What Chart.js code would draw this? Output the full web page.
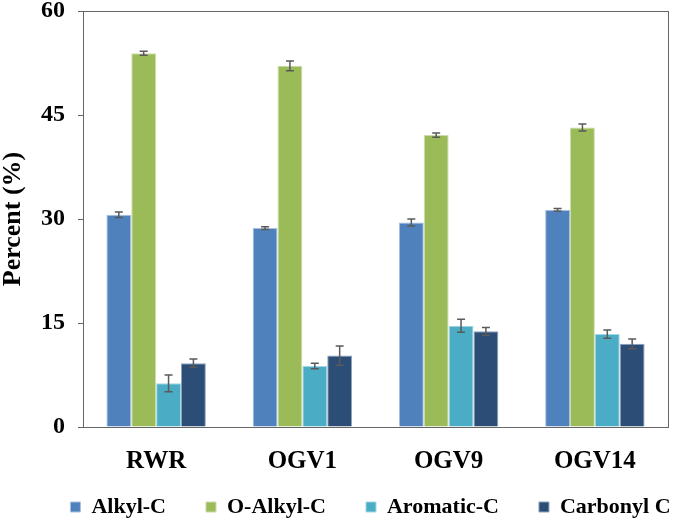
<!DOCTYPE html>
<html>
<head>
<meta charset="utf-8">
<script src="https://cdn.jsdelivr.net/npm/chart.js@4"></script>
<style>
	body { margin: 0; background: #fff; }
</style>
</head>
<body>
<canvas id="carbonChart" width="685" height="521"></canvas>
<script>
var samples = ["RWR", "OGV1", "OGV9", "OGV14"];

var alkylValues = [30.6, 28.7, 29.5, 31.3];
var oAlkylValues = [53.9, 52.1, 42.1, 43.2];
var aromaticValues = [6.3, 8.8, 14.6, 13.4];
var carbonylValues = [9.2, 10.3, 13.8, 12.0];

var alkylErrors = [0.4, 0.2, 0.5, 0.2];
var oAlkylErrors = [0.3, 0.7, 0.3, 0.5];
var aromaticErrors = [1.2, 0.4, 0.95, 0.6];
var carbonylErrors = [0.6, 1.4, 0.55, 0.7];

var yTicks = [0, 15, 30, 45, 60];

var font = "'Liberation Serif', 'Times New Roman', serif";
var axisColor = "#666";

// error bars, drawn on top of the bars
var errorBars = {
	id: "errorBars",
	afterDatasetsDraw: function (chart) {
		var ctx = chart.ctx;
		var y = chart.scales.y;
		ctx.save();
		ctx.strokeStyle = "#5a5a5a";
		ctx.lineWidth = 1.5;
		chart.data.datasets.forEach(function (ds, i) {
			var meta = chart.getDatasetMeta(i);
			meta.data.forEach(function (bar, j) {
				var top = y.getPixelForValue(ds.data[j] + ds.errors[j]);
				var bot = y.getPixelForValue(ds.data[j] - ds.errors[j]);
				ctx.beginPath();
				ctx.moveTo(bar.x, top);
				ctx.lineTo(bar.x, bot);
				ctx.moveTo(bar.x - 4, top);
				ctx.lineTo(bar.x + 4, top);
				ctx.moveTo(bar.x - 4, bot);
				ctx.lineTo(bar.x + 4, bot);
				ctx.stroke();
			});
		});
		ctx.restore();
	}
};

// legend keeps a short box in the layout, then gets moved to where the original has it
var legendNudge = {
	id: "legendNudge",
	afterLayout: function (chart) {
		var lg = chart.legend;
		lg.left += 28;
		lg.right += 28;
		lg.top = 456;
		lg.bottom = 521;
		lg.height = 65;
	}
};

var chartEl = document.getElementById("carbonChart");

var carbonChart = new Chart(chartEl, {
	type: "bar",
	data: {
		labels: samples,
		datasets: [
			{
				label: "Alkyl-C",
				data: alkylValues,
				errors: alkylErrors,
				backgroundColor: "#4F81BD",
				borderColor: "#a9c1df",
				borderWidth: 1
			},
			{
				label: "O-Alkyl-C",
				data: oAlkylValues,
				errors: oAlkylErrors,
				backgroundColor: "#9BBB59",
				borderColor: "#cddcac",
				borderWidth: 1
			},
			{
				label: "Aromatic-C",
				data: aromaticValues,
				errors: aromaticErrors,
				backgroundColor: "#4BACC6",
				borderColor: "#a5d5e2",
				borderWidth: 1
			},
			{
				label: "Carbonyl C",
				data: carbonylValues,
				errors: carbonylErrors,
				backgroundColor: "#2C4D75",
				borderColor: "#8ea3bd",
				borderWidth: 1
			}
		]
	},
	options: {
		responsive: false,
		animation: false,
		layout: { padding: 0 },
		datasets: {
			bar: { barPercentage: 1, categoryPercentage: 0.68 }
		},
		plugins: {
			tooltip: { enabled: false },
			legend: {
				position: "bottom",
				fullSize: true,
				maxHeight: 44,
				labels: {
					boxWidth: 10,
					boxHeight: 10,
					padding: 40,
					color: "#000",
					font: { family: font, size: 22, weight: "bold" }
				}
			}
		},
		scales: {
			x: {
				afterFit: function (scale) { scale.height = 50; },
				grid: { display: false, drawTicks: false },
				border: { color: axisColor, width: 1 },
				ticks: {
					padding: 20,
					color: "#000",
					font: { family: font, size: 25, weight: "bold" }
				}
			},
			y: {
				min: 0,
				max: 60,
				afterFit: function (scale) {
					scale.width = 83;
					scale.paddingTop = 11;
					scale.paddingBottom = 11;
				},
				afterBuildTicks: function (scale) {
					scale.ticks = yTicks.map(function (v) { return { value: v }; });
				},
				grid: { drawOnChartArea: false, drawTicks: true, tickLength: 5, color: axisColor },
				border: { color: axisColor, width: 1 },
				ticks: {
					padding: 13,
					color: "#000",
					font: { family: font, size: 24, weight: "bold", lineHeight: 1 }
				},
				title: {
					display: true,
					text: "Percent (%)",
					color: "#000",
					padding: 0,
					font: { family: font, size: 26, weight: "bold", lineHeight: 1 }
				}
			},
			// empty axes that only draw the top and right edges of the box
			xTop: {
				axis: "x",
				type: "category",
				position: "top",
				grid: { display: false, drawTicks: false },
				border: { color: axisColor, width: 1 },
				ticks: { display: false },
				afterFit: function (scale) { scale.height = 0; }
			},
			yRight: {
				axis: "y",
				type: "linear",
				position: "right",
				grid: { display: false, drawTicks: false },
				border: { color: axisColor, width: 1 },
				ticks: { display: false },
				afterFit: function (scale) {
					scale.width = 17;
					scale.paddingTop = 0;
					scale.paddingBottom = 0;
				}
			}
		}
	},
	plugins: [errorBars, legendNudge]
});
</script>
</body>
</html>
